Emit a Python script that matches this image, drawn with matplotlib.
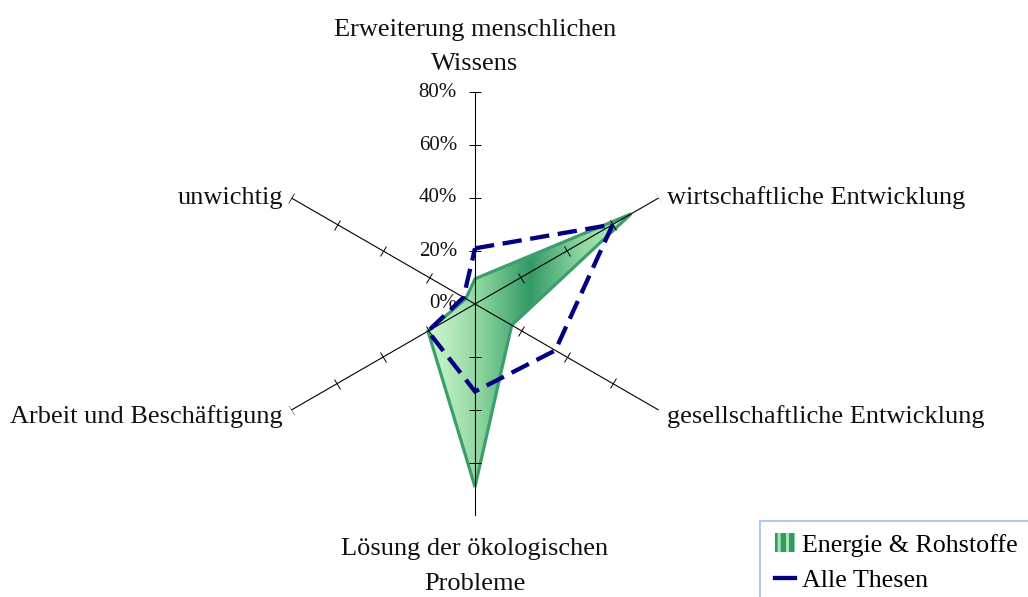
import numpy as np
import matplotlib
matplotlib.use("Agg")
import matplotlib.pyplot as plt
from matplotlib.markers import MarkerStyle
from matplotlib.transforms import Affine2D
from matplotlib.colors import LinearSegmentedColormap
from matplotlib.patches import Patch, Rectangle
from matplotlib.lines import Line2D

plt.rcParams['font.family'] = ['Liberation Serif', 'DejaVu Serif']
plt.rcParams['hatch.linewidth'] = 2.2

# ---------------- data ----------------
categories = [
    "Erweiterung menschlichen\nWissens",
    "wirtschaftliche Entwicklung",
    "gesellschaftliche Entwicklung",
    "Lösung der ökologischen\nProbleme",
    "Arbeit und Beschäftigung",
    "unwichtig",
]
energie_rohstoffe = [9.5, 68, 16, 69, 20.5, 4]
alle_thesen = [21, 60, 35, 33, 20.5, 5]
series_names = ["Energie & Rohstoffe", "Alle Thesen"]
tick_values = [0, 20, 40, 60, 80]
tick_labels = ["0%", "20%", "40%", "60%", "80%"]

# ---------------- styles ----------------
green_edge = '#3c9e6c'
navy = '#000080'
cmap = LinearSegmentedColormap.from_list(
    'grad', ['#cff8cf', '#8fd6a0', '#339966', '#8fd6a0', '#c2f2c6'])

label_layout = [
    ((0, 12), 'center', 'bottom'),
    ((6, 0), 'left', 'center'),
    ((6, -5), 'left', 'center'),
    ((0, -16), 'center', 'top'),
    ((-6, -5), 'right', 'center'),
    ((-6, 0), 'right', 'center'),
]

fig = plt.figure(figsize=(10.28, 5.97), dpi=100)
rect = [(475 - 212) / 1028, (597 - 304 - 212) / 597, 424 / 1028, 424 / 597]

axg = fig.add_axes(rect, zorder=0)
axg.set_xlim(0, 1)
axg.set_ylim(0, 1)
axg.set_axis_off()

ax = fig.add_axes(rect, projection='polar', zorder=1)
ax.set_theta_zero_location('N')
ax.set_theta_direction(-1)
ax.set_ylim(0, tick_values[-1])
ax.set_axis_off()
ax.patch.set_visible(False)

n = len(categories)
angles = np.arange(n) * 2 * np.pi / n
theta_c = np.append(angles, angles[0])
e_c = np.append(energie_rohstoffe, energie_rohstoffe[0])
a_c = np.append(alle_thesen, alle_thesen[0])

# green area (edge) + gradient fill clipped to it
poly = ax.fill(theta_c, e_c, facecolor='none', edgecolor=green_edge,
               lw=2.3, zorder=2, joinstyle='miter')[0]
pts = ax.transData.transform(np.column_stack([theta_c, e_c]))
fx = axg.transAxes.inverted().transform(pts)[:, 0]
grad = np.linspace(0, 1, 256).reshape(1, -1)
img = axg.imshow(grad, cmap=cmap, extent=[fx.min(), fx.max(), 0, 1],
                 aspect='auto', origin='lower', interpolation='bilinear')
img.set_clip_path(poly)

# axes lines with ticks
for a in angles:
    ax.plot([a, a], [0, tick_values[-1]], color='black', lw=0.8, zorder=3)
    deg = np.degrees(a)
    m = MarkerStyle('|', transform=Affine2D().rotate_deg(90 - deg))
    ax.plot([a] * (len(tick_values) - 1), tick_values[1:], linestyle='none',
            marker=m, ms=8.8, mec='black', mew=0.7, zorder=3)

# radial tick labels on the top axis
for v, lab in zip(tick_values, tick_labels):
    ax.annotate(lab, xy=(angles[0], v), xytext=(-13, 0),
                textcoords='offset points', ha='right', va='center',
                fontsize=15, color='#111111', zorder=4)

# category labels
for a, cat, (off, ha, va) in zip(angles, categories, label_layout):
    ax.annotate(cat, xy=(a, tick_values[-1]), xytext=off,
                textcoords='offset points', ha=ha, va=va,
                multialignment='center', fontsize=19, linespacing=1.75,
                color='#111111', annotation_clip=False)

# blue dashed series
ax.plot(theta_c, a_c, color=navy, lw=3.1, dashes=(4.5, 2), zorder=5,
        solid_joinstyle='miter', dash_joinstyle='miter')

# legend (frame runs off the figure edge as in the original)
fig.patches.append(Rectangle((760 / 1028, -0.1), 0.4, (1 - 521 / 597) + 0.1,
                             transform=fig.transFigure, fill=False,
                             edgecolor='#a8ccf0', lw=1.5, zorder=0))
handles = [
    Patch(facecolor='#339966', edgecolor='#a8e4b0', hatch='||', lw=0),
    Line2D([0], [0], color=navy, lw=3.1),
]
leg = fig.legend(handles, series_names, loc='upper left',
                 bbox_to_anchor=(766 / 1028, 1 - 524 / 597),
                 frameon=False, fontsize=18.7, handlelength=0.75,
                 handleheight=0.75, handletextpad=0.3, borderpad=0.35,
                 labelspacing=0.45, borderaxespad=0)

fig.savefig('out.png', dpi=100)
